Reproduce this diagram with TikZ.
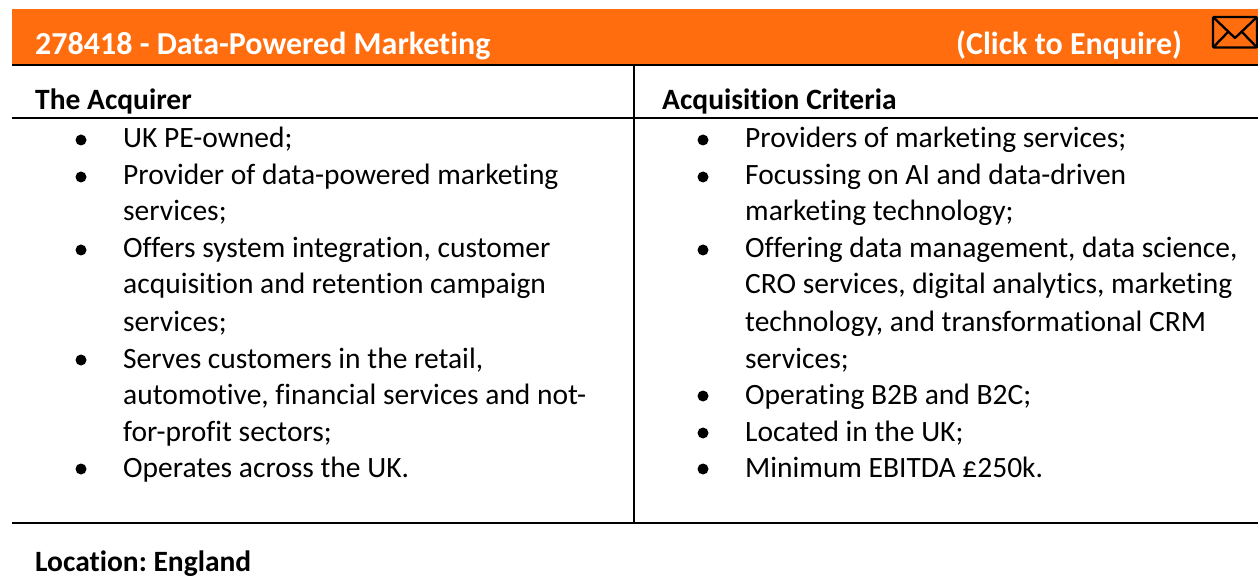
\documentclass[tikz,border=0pt]{standalone}
\usepackage{fontspec}
\setmainfont{Carlito}[Ligatures=NoCommon]
\definecolor{bandor}{HTML}{FF6D0E}
\tikzset{
 px/.style={x=1pt,y=-1pt},
 body/.style={font=\fontsize{29.5}{30}\selectfont\frenchspacing,anchor=base west,inner sep=0pt,text=black},
 head/.style={font=\fontsize{29.5}{30}\selectfont\bfseries\frenchspacing,anchor=base west,inner sep=0pt,text=black},
 band/.style={font=\fontsize{32}{34}\selectfont\bfseries\frenchspacing,anchor=base west,inner sep=0pt,text=white},
 rulel/.style={line width=2pt,black},
 dot/.style={circle,fill=black,inner sep=0pt,minimum size=11pt},
 envline/.style={line width=2.3pt,black,line join=round}
}
\newcommand{\bl}[3]{\node[dot] (d#1#2) at (#1-42,#2-8) {}; \node[body] (t#1#2) at (#1,#2) {#3};}
\newcommand{\tl}[3]{\node[body] (t#1#2) at (#1,#2) {#3};}
\begin{document}
\begin{tikzpicture}[px]
\useasboundingbox (0,0) rectangle (1258,577);
\fill[bandor] (12,9) rectangle (1258,64);
\coordinate (h1) at (12,65); \coordinate (h2) at (1258,65);
\draw[rulel] (h1) -- (h2);
\coordinate (s1) at (12,118); \coordinate (s2) at (1258,118);
\draw[rulel] (s1) -- (s2);
\coordinate (m1) at (12,522.7); \coordinate (m2) at (1258,522.7);
\draw[rulel] (m1) -- (m2);
\coordinate (v1) at (634,65); \coordinate (v2) at (634,522.7);
\draw[rulel] (v1) -- (v2);
\node[band] (t1) at (35,55) {278418 - Data-Powered Marketing};
\node[band] (t2) at (956,55) {(Click to Enquire)};
\coordinate (ea) at (1213,17); \coordinate (eb) at (1257,17);
\coordinate (ec) at (1257,47.5); \coordinate (ed) at (1213,47.5);
\coordinate (ee) at (1235,38);
\draw[envline,rounded corners=1pt] (ea) -- (eb) -- (ec) -- (ed) -- cycle;
\draw[envline] (ea) -- (ee) -- (eb);
\coordinate (ef) at (1228,32); \coordinate (eg) at (1242,32);
\draw[envline] (ed) -- (ef);
\draw[envline] (ec) -- (eg);
\node[head] (a0) at (35,110) {The Acquirer};
\node[head] (b0) at (662,110) {Acquisition Criteria};
\bl{123}{148}{UK PE-owned;}
\bl{123}{185}{Provider of data-powered marketing}
\tl{123}{221}{services;}
\bl{123}{258}{Offers system integration, customer}
\tl{123}{294}{acquisition and retention campaign}
\tl{123}{331}{services;}
\bl{123}{368}{Serves customers in the retail,}
\tl{123}{404}{automotive, financial services and not-}
\tl{123}{441}{for-profit sectors;}
\bl{123}{477}{Operates across the UK.}
\bl{745}{148}{Providers of marketing services;}
\bl{745}{185}{Focussing on AI and data-driven}
\tl{745}{221}{marketing technology;}
\bl{745}{258}{Offering data management, data science,}
\tl{745}{294}{CRO services, digital analytics, marketing}
\tl{745}{331}{technology, and transformational CRM}
\tl{745}{368}{services;}
\bl{745}{404}{Operating B2B and B2C;}
\bl{745}{441}{Located in the UK;}
\bl{745}{477}{Minimum EBITDA £250k.}
\node[head] (loc) at (35,571) {Location: England};
\end{tikzpicture}
\end{document}
